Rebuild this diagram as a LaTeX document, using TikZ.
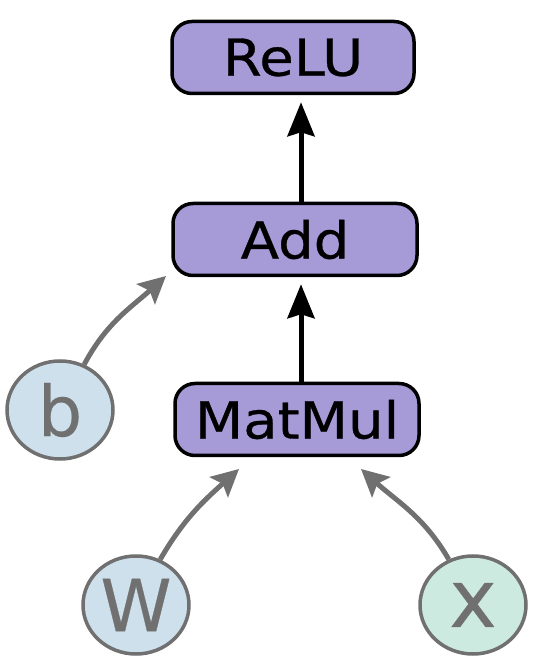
\documentclass[tikz,border=0pt]{standalone}
\usepackage{fontspec}
\setmainfont{DejaVu Sans}
\newfontfamily\boxfont[FakeStretch=1.1,FakeBold=0.6]{DejaVu Sans}
\newfontfamily\varfont[FakeBold=0.4]{DejaVu Sans}
\usetikzlibrary{arrows.meta,shapes.geometric}
\definecolor{opfill}{HTML}{A69BD7}
\definecolor{wfill}{HTML}{CDE0EC}
\definecolor{xfill}{HTML}{CDEAE0}
\definecolor{edgegray}{HTML}{707070}
\tikzset{
  opbox/.style={draw=black, line width=3.5pt, fill=opfill, rounded corners=20pt,
    inner sep=0pt, font=\boxfont\fontsize{51}{51}\selectfont},
  varnode/.style={ellipse, draw=edgegray, line width=3.5pt, inner sep=0pt,
    minimum width=106pt, minimum height=98pt, text=edgegray,
    font=\varfont\fontsize{70}{70}\selectfont},
  blackarrow/.style={line width=5pt, shorten >=7pt, -{Stealth[length=34pt,width=27pt,inset=4pt]}},
  grayarrow/.style={draw=edgegray, line width=5pt, -{Stealth[length=27pt,width=27pt,inset=5pt]}}
}
\begin{document}
\begin{tikzpicture}[x=1pt,y=1pt]
\useasboundingbox (0,0) rectangle (540,670);
\node[opbox, minimum width=242pt, minimum height=72pt] (relu) at (293,612.5) {ReLU};
\node[opbox, minimum width=244pt, minimum height=72pt] (add) at (295,430.5) {Add};
\node[opbox, minimum width=244pt, minimum height=72pt] (matmul) at (297,250.5) {MatMul};
\node[varnode, fill=wfill] (b) at (60,260) {b};
\node[varnode, fill=wfill, font=\varfont\fontsize{72}{72}\selectfont] (W) at (136,65) {W};
\node[varnode, fill=xfill, font=\varfont\fontsize{80}{80}\selectfont] (x) at (473,65) {x};
\coordinate (bt) at (166,394);
\coordinate (wt) at (239,201);
\coordinate (xt) at (361,201);
\draw[blackarrow] (add.north -| 301,0) -- (relu.south -| 301,0);
\draw[blackarrow] (matmul.north -| 301,0) -- (add.south -| 301,0);
\draw[grayarrow] (b.62) to[out=62,in=-138] (bt);
\draw[grayarrow] (W.62) to[out=60,in=-138] (wt);
\draw[grayarrow] (x.118) to[out=120,in=-42] (xt);
\end{tikzpicture}
\end{document}
